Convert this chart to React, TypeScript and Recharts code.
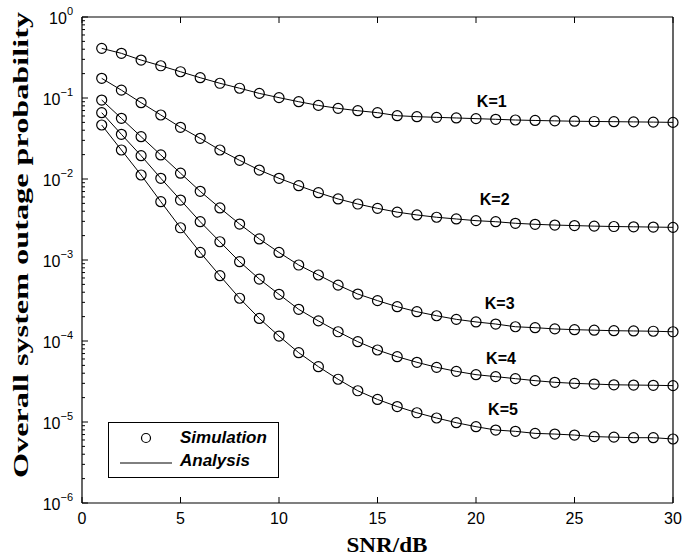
import { LineChart, Line, XAxis, YAxis, Legend, ReferenceDot, Label } from 'recharts';

// SNR (dB) sample points
const snr = [1, 2, 3, 4, 5, 6, 7, 8, 9, 10, 11, 12, 13, 14, 15, 16, 17, 18, 19, 20, 21, 22, 23, 24, 25, 26, 27, 28, 29, 30];

// outage probability per number of relays K
const k1 = [0.41, 0.356, 0.294, 0.25, 0.211, 0.178, 0.152, 0.132, 0.114, 0.101, 0.09, 0.081, 0.0745, 0.0697, 0.0659, 0.0605, 0.0588, 0.0577, 0.0567, 0.0556, 0.0546, 0.0535, 0.0528, 0.0522, 0.0517, 0.0513, 0.051, 0.0507, 0.0504, 0.05];
const k2 = [0.175, 0.125, 0.0875, 0.0617, 0.0435, 0.0318, 0.0228, 0.017, 0.0129, 0.0102, 0.00826, 0.00677, 0.00567, 0.00491, 0.00434, 0.0039, 0.0036, 0.00337, 0.00321, 0.00306, 0.00297, 0.00284, 0.00276, 0.0027, 0.00266, 0.00262, 0.00259, 0.00257, 0.00255, 0.00253];
const k3 = [0.0944, 0.0561, 0.0333, 0.0198, 0.0118, 0.00705, 0.00439, 0.00278, 0.00182, 0.00124, 0.000867, 0.000653, 0.00049, 0.00038, 0.000315, 0.000265, 0.00023, 0.000205, 0.000185, 0.000172, 0.000162, 0.00015, 0.000146, 0.000141, 0.000138, 0.000136, 0.000134, 0.000133, 0.000132, 0.00013];
const k4 = [0.0659, 0.0356, 0.0194, 0.0102, 0.0055, 0.00297, 0.00168, 0.000953, 0.000582, 0.000377, 0.000246, 0.000177, 0.00013, 9.8e-5, 7.74e-5, 6.4e-5, 5.46e-5, 4.73e-5, 4.22e-5, 3.84e-5, 3.63e-5, 3.43e-5, 3.24e-5, 3.09e-5, 3.0e-5, 2.94e-5, 2.88e-5, 2.86e-5, 2.84e-5, 2.81e-5];
const k5 = [0.0464, 0.0228, 0.0112, 0.00525, 0.0025, 0.00124, 0.00064, 0.000337, 0.00019, 0.000115, 7.17e-5, 4.82e-5, 3.37e-5, 2.43e-5, 1.9e-5, 1.55e-5, 1.3e-5, 1.12e-5, 9.8e-6, 8.75e-6, 7.96e-6, 7.67e-6, 7.24e-6, 7.1e-6, 6.9e-6, 6.6e-6, 6.5e-6, 6.4e-6, 6.4e-6, 6.17e-6];

const seriesKeys = ['k1', 'k2', 'k3', 'k4', 'k5'];
const curveLabels = ['K=1', 'K=2', 'K=3', 'K=4', 'K=5'];
// where the K=.. annotations sit, in data units
const labelX = [20.8, 20.95, 21.2, 21.27, 21.37];
const labelY = [0.0918, 0.00566, 2.94e-4, 6.17e-5, 1.43e-5];

const xTicks = [0, 5, 10, 15, 20, 25, 30];
const yMajorTicks = [1e-6, 1e-5, 1e-4, 1e-3, 1e-2, 1e-1, 1];
const legendNames = ['Simulation', 'Analysis'];

const yTicks: number[] = [];
yMajorTicks.forEach((t, i) => {
  yTicks.push(t);
  if (i < yMajorTicks.length - 1) {
    for (let m = 2; m <= 9; m++) yTicks.push(m * t);
  }
});

const chartData = snr.map((s, i) => ({ snr: s, k1: k1[i], k2: k2[i], k3: k3[i], k4: k4[i], k5: k5[i] }));

const SANS = '"Liberation Sans", Arial, Helvetica, sans-serif';
const SERIF = '"Liberation Serif", "Times New Roman", serif';
const MAJOR = 6;
const MINOR = 3;
const GAP = 4;

const isMajor = (v: number) => Math.abs(Math.log10(v) - Math.round(Math.log10(v))) < 1e-6;

function LeftTick(props: any) {
  const { x, y, payload } = props;
  const ax = x + GAP;
  const major = isMajor(payload.value);
  const exp = Math.round(Math.log10(payload.value));
  return (
    <g>
      <line x1={ax} x2={ax + (major ? MAJOR : MINOR)} y1={y} y2={y} stroke="#000" strokeWidth={1} />
      {major && (
        <text x={ax - 9} y={y + 7} textAnchor="end" fontFamily={SANS} fontSize={16} fill="#000">
          10
          <tspan dy={-9} fontSize={11}>{exp === 0 ? '0' : `\u2212${Math.abs(exp)}`}</tspan>
        </text>
      )}
    </g>
  );
}

function RightTick(props: any) {
  const { x, y, payload } = props;
  const ax = x - GAP;
  const major = isMajor(payload.value);
  return <line x1={ax} x2={ax - (major ? MAJOR : MINOR)} y1={y} y2={y} stroke="#000" strokeWidth={1} />;
}

function BottomTick(props: any) {
  const { x, y, payload } = props;
  const ay = y - GAP;
  return (
    <g>
      <line x1={x} x2={x} y1={ay} y2={ay - MAJOR} stroke="#000" strokeWidth={1} />
      <text x={x} y={ay + 21} textAnchor="middle" fontFamily={SANS} fontSize={16} fill="#000">
        {payload.value}
      </text>
    </g>
  );
}

function TopTick(props: any) {
  const { x, y } = props;
  const ay = y + GAP;
  return <line x1={x} x2={x} y1={ay} y2={ay + MAJOR} stroke="#000" strokeWidth={1} />;
}

function XTitle(props: any) {
  const vb = props.viewBox;
  return (
    <text x={vb.x + vb.width / 2 + 9.5} y={vb.y + 49} textAnchor="middle" fontFamily={SERIF} fontWeight="bold" fontSize={22} textLength={81} lengthAdjust="spacingAndGlyphs" fill="#000">
      SNR/dB
    </text>
  );
}

function YTitle(props: any) {
  const vb = props.viewBox;
  const cx = 28;
  const cy = vb.y + vb.height / 2 - 15;
  return (
    <text x={cx} y={cy} transform={`rotate(-90 ${cx} ${cy})`} textAnchor="middle" fontFamily={SERIF} fontWeight="bold" fontSize={21} textLength={466} lengthAdjust="spacingAndGlyphs" fill="#000">
      Overall system outage probability
    </text>
  );
}

function LegendBox() {
  return (
    <div style={{ width: 171, height: 56, border: '1px solid #000', background: '#fff', boxSizing: 'border-box' }}>
      <svg width={169} height={54}>
        <circle cx={37} cy={15} r={4.5} fill="none" stroke="#000" strokeWidth={1.2} />
        <text x={71} y={20} fontFamily={SANS} fontWeight="bold" fontStyle="italic" fontSize={17} fill="#000">{legendNames[0]}</text>
        <line x1={11} x2={63} y1={40} y2={40} stroke="#000" strokeWidth={1} />
        <text x={71} y={43} fontFamily={SANS} fontWeight="bold" fontStyle="italic" fontSize={17} fill="#000">{legendNames[1]}</text>
      </svg>
    </div>
  );
}

export default function App() {
  return (
    <div style={{ position: 'absolute', left: 0, top: 0, background: '#fff' }}>
      <LineChart width={684} height={559} data={chartData} margin={{ top: 0, right: 0, bottom: 0, left: 0 }}>
        <XAxis dataKey="snr" type="number" domain={[0, 30]} ticks={xTicks} interval={0} height={56}
          axisLine={{ stroke: '#000', strokeWidth: 1.2 }} tickLine={false} tickSize={0} tickMargin={GAP} tick={<BottomTick />}>
          <Label content={<XTitle />} />
        </XAxis>
        <XAxis xAxisId="top" orientation="top" dataKey="snr" type="number" domain={[0, 30]} ticks={xTicks} interval={0} height={17}
          axisLine={{ stroke: '#000', strokeWidth: 1.2 }} tickLine={false} tickSize={0} tickMargin={GAP} tick={<TopTick />} />
        <YAxis type="number" scale="log" domain={[1e-6, 1]} ticks={yTicks} interval={0} width={82}
          axisLine={{ stroke: '#000', strokeWidth: 1.2 }} tickLine={false} tickSize={0} tickMargin={GAP} tick={<LeftTick />}>
          <Label content={<YTitle />} />
        </YAxis>
        <YAxis yAxisId="right" orientation="right" type="number" scale="log" domain={[1e-6, 1]} ticks={yTicks} interval={0} width={11}
          axisLine={{ stroke: '#000', strokeWidth: 1.2 }} tickLine={false} tickSize={0} tickMargin={GAP} tick={<RightTick />} />

        <Legend content={<LegendBox />} layout="horizontal" verticalAlign="middle" align="center"
          wrapperStyle={{ left: 108, top: 422, width: 171, height: 56 }} />

        {seriesKeys.map((k) => (
          <Line key={`a-${k}`} dataKey={k} type="linear" stroke="#000" strokeWidth={1} dot={false}
            isAnimationActive={false} name="Analysis" legendType="none" />
        ))}
        {seriesKeys.map((k) => (
          <Line key={`s-${k}`} dataKey={k} type="linear" stroke="none"
            dot={{ r: 5, stroke: '#000', strokeWidth: 1.2, fill: 'none' }} activeDot={false}
            isAnimationActive={false} name="Simulation" legendType="none" />
        ))}

        {curveLabels.map((lab, i) => (
          <ReferenceDot key={lab} x={labelX[i]} y={labelY[i]} r={0} fill="none" stroke="none"
            label={{ value: lab, position: 'center', fill: '#000', fontSize: 16, fontWeight: 'bold', fontFamily: SANS }} />
        ))}
      </LineChart>
    </div>
  );
}
